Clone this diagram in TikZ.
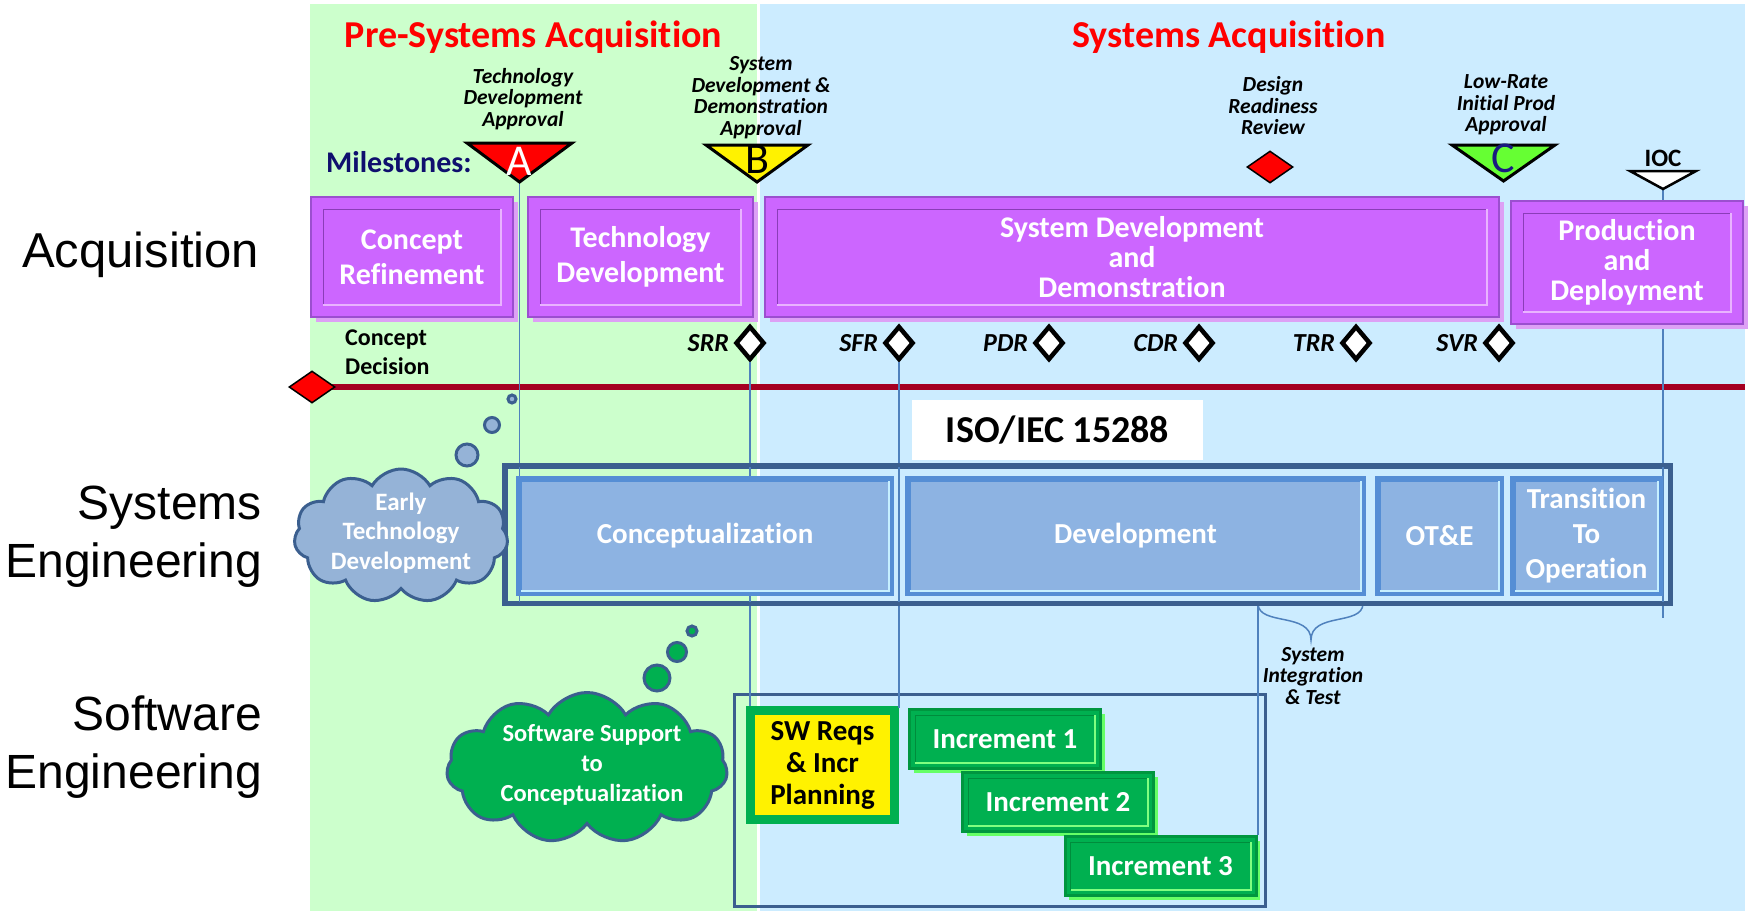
\documentclass[tikz,border=0pt]{standalone}
\usepackage{fontspec}
\setmainfont{Carlito}[Ligatures=NoCommon]
\newfontfamily\arialf{Liberation Sans}
\usetikzlibrary{shapes.geometric,shapes.symbols,shadows}
\newcommand\fsz[2]{\fontsize{#1}{#2}\selectfont}
\definecolor{greenbg}{HTML}{CCFFCC}
\definecolor{bluebg}{HTML}{CCECFF}
\definecolor{acqfill}{HTML}{CC66FF}
\definecolor{acqedge}{HTML}{9B4FCF}
\definecolor{acqdark}{HTML}{8A3DB8}
\definecolor{acqlight}{HTML}{E9B3FF}
\definecolor{acqshade}{HTML}{DDA0F5}
\definecolor{sefill}{HTML}{8DB3E2}
\definecolor{seedge}{HTML}{558ED5}
\definecolor{seshade}{HTML}{C6EFFF}
\definecolor{seout}{HTML}{3B5F8F}
\definecolor{vlinec}{HTML}{4F81BD}
\definecolor{redline}{HTML}{A50021}
\definecolor{etdfill}{HTML}{95B3D7}
\definecolor{swgreen}{HTML}{00B050}
\definecolor{incedge}{HTML}{00963F}
\definecolor{incdark}{HTML}{008C3C}
\definecolor{inclight}{HTML}{80FF80}
\definecolor{incshade}{HTML}{66FF66}
\definecolor{navyt}{HTML}{0F0F6E}
\definecolor{cletter}{HTML}{1A1A80}
\definecolor{triC}{HTML}{66FF33}
\newcommand\bevel[4]{%
  \draw[#3] ([shift={(#2,-#2)}]#1.south west) -- ([shift={(#2,#2)}]#1.north west) -- ([shift={(-#2,#2)}]#1.north east);
  \draw[#4] ([shift={(-#2,#2)}]#1.north east) -- ([shift={(-#2,-#2)}]#1.south east) -- ([shift={(#2,-#2)}]#1.south west);}
\begin{document}
\begin{tikzpicture}[x=1pt,y=-1pt,
  vline/.style={draw=vlinec, line width=1.6},
  acq/.style={rectangle, fill=acqfill, draw=acqedge, line width=1.5, text=white, align=center, inner sep=0,
    drop shadow={shadow xshift=5pt, shadow yshift=-5pt, fill=acqshade, opacity=1}},
  seb/.style={rectangle, fill=sefill, draw=seedge, line width=6, text=white, font=\fsz{29}{35}\bfseries, align=center, inner sep=0,
    drop shadow={shadow xshift=3pt, shadow yshift=-3pt, fill=seshade, opacity=1}},
  incbox/.style={rectangle, fill=swgreen, draw=incedge, line width=3, text=white, font=\fsz{29}{32}\bfseries, inner sep=0,
    minimum width=191, minimum height=59,
    drop shadow={shadow xshift=4pt, shadow yshift=-4pt, fill=incshade, opacity=1}},
  rev/.style={diamond, draw=black, line width=4.5, fill=white, minimum width=29, minimum height=34, inner sep=0},
  reddia/.style={diamond, draw=black, line width=1.5, fill=red, minimum width=46, minimum height=32, inner sep=0},
  revlab/.style={font=\fsz{26}{28}\bfseries\itshape, anchor=east, inner sep=0},
  mslab/.style={font=\fsz{21.5}{21.5}\bfseries\itshape, align=center, inner sep=0},
  tri/.style={draw=black, line width=3, line join=miter},
  letter/.style={font=\fsz{44}{44}, anchor=base, inner sep=0},
  cloudn/.style={cloud, cloud puffs=11, cloud puff arc=120, draw=seout, line width=3, inner sep=0},
  bub/.style={circle, draw=seout, line width=3, inner sep=0},
  lanelab/.style={font=\arialf\fsz{48}{58}, align=right, inner sep=0}
]
\useasboundingbox (0,0) rectangle (1752,911);
% backgrounds
\fill[white] (0,0) rectangle (1752,911);
\fill[greenbg] (310,4) rectangle (757,911);
\fill[bluebg] (760,4) rectangle (1745,911);

% titles
\node[font=\fsz{38}{40}\bfseries, text=red, anchor=base, inner sep=0] (pre) at (533.5,47) {Pre-Systems Acquisition};
\node[font=\fsz{38}{40}\bfseries, text=red, anchor=base, inner sep=0] (sa) at (1229,47) {Systems Acquisition};
\node[font=\fsz{30}{32}\bfseries, text=navyt, anchor=base west, inner sep=0] (ms) at (326,172) {Milestones:};

% lane labels
\node[font=\arialf\fsz{49}{58}, anchor=base west, inner sep=0] (lacq) at (22,267) {Acquisition};
\node[lanelab, anchor=east] (lse) at (262,537) {Systems\\Engineering};
\node[lanelab, anchor=east] (lsw) at (262,747) {Software\\Engineering};

% timeline
\coordinate (tlstart) at (312,387);
\coordinate (tlend) at (1745,387);
\draw[redline, line width=6] (tlstart) -- (tlend);
\node[reddia] (cd) at (tlstart) {};
\node[font=\fsz{24}{29}\bfseries, align=left, anchor=west, inner sep=0] (cdl) at (345,352.5) {Concept\\Decision};

% milestone geometry coordinates
\coordinate (Aap) at (519.5,182);
\coordinate (iocap) at (1663,189);
\coordinate (iocend) at (1663,618);

% review diamonds
\node[rev] (srr) at (750,343) {};
\node[rev] (sfr) at (899,343) {};
\node[rev] (pdr) at (1049,343) {};
\node[rev] (cdr) at (1199,343) {};
\node[rev] (trr) at (1356,343) {};
\node[rev] (svr) at (1499,343) {};
\foreach \n/\t in {srr/SRR,sfr/SFR,pdr/PDR,cdr/CDR,trr/TRR,svr/SVR}
  \node[revlab] (\n l) at ([xshift=-4pt]\n.west) {\t};

% SE / SW frames
\node[draw=seout, line width=3.5, minimum width=1163.5, minimum height=135.5, inner sep=0] (seo) at (1087.5,534.5) {};
\node[draw=seout, line width=3.5, minimum width=531, minimum height=212, inner sep=0] (swo) at (1000,800.5) {};

% SW boxes
\node[rectangle, fill=yellow, draw=swgreen, line width=9, font=\fsz{29}{32}\bfseries, align=center, inner sep=0,
  minimum width=144, minimum height=109,
  drop shadow={shadow xshift=4pt, shadow yshift=-4pt, fill=incshade, opacity=1}] (swr) at (822.5,765) {SW Reqs\\\& Incr\\Planning};
\node[incbox] (inc1) at (1005,739) {Increment 1};
\node[incbox] (inc2) at (1058,802) {Increment 2};
\node[incbox] (inc3) at (1160.5,866) {Increment 3};
\foreach \n in {inc1,inc2,inc3} {\bevel{\n}{7}{incdark, line width=1}{inclight, line width=2}}

% brace coordinates
\coordinate (bl) at (1258,604);
\coordinate (br) at (1363,604);
\coordinate (btip) at (1311,640);

% vertical connectors
\draw[vline] (Aap) -- (Aap |- seo.south);
\draw[vline] (srr.south) -- (srr.south |- swr.north);
\draw[vline] (sfr.south) -- (sfr.south |- inc1.north);
\draw[vline] (iocap) -- (iocend);
\draw[vline] (bl) -- (bl |- inc3.north);
\draw[vlinec, line width=1.5] (bl) .. controls (1259,626) and (1311,612) .. (btip) .. controls (1311,612) and (1362,626) .. (br);
\node[mslab] (sit) at (1313,676) {System\\Integration\\\& Test};

% acquisition boxes
\node[acq, font=\fsz{30}{35}\bfseries, minimum width=202, minimum height=120] (cr) at (412,257) {Concept\\Refinement};
\node[acq, font=\fsz{30}{35}\bfseries, minimum width=225, minimum height=120] (td) at (640.5,257) {Technology\\Development};
\node[acq, font=\fsz{30}{30}\bfseries, minimum width=734, minimum height=120] (sdd) at (1132,257) {System Development\\and\\Demonstration};
\node[acq, font=\fsz{30}{30}\bfseries, minimum width=232, minimum height=123] (pd) at (1627,262.5) {Production\\and\\Deployment};
\foreach \n in {cr,td,sdd,pd} {\bevel{\n}{13}{acqdark, line width=1}{acqlight, line width=2.5}}

% SE boxes
\node[seb, minimum width=372, minimum height=114] (conc) at (705,536) {Conceptualization};
\node[seb, minimum width=455, minimum height=114] (dev) at (1135.5,536) {Development};
\node[seb, minimum width=123, minimum height=114] (ote) at (1439.5,536) {OT\&E};
\node[seb, minimum width=147, minimum height=114] (tto) at (1586.5,536) {Transition\\To\\Operation};
\foreach \n in {conc,dev,ote,tto} {\bevel{\n}{5}{seedge, line width=1}{seshade, line width=2.5}}
\draw[seout, line width=3.5] (seo.north west) rectangle (seo.south east);

\node[fill=white, minimum width=291, minimum height=60, inner sep=0, font=\fsz{38}{40}\bfseries] (iso) at (1057.5,430) {ISO/IEC 15288};

% clouds
\node[cloudn, fill=etdfill, minimum width=214, minimum height=134] (etd) at (401,536) {};
\node[font=\fsz{25}{29.5}\bfseries, text=white, align=center, inner sep=0] (etdt) at (401,533) {Early\\Technology\\Development};
\node[bub, fill=etdfill, minimum size=22] (eb1) at (467,455) {};
\node[bub, fill=etdfill, minimum size=15] (eb2) at (492,425) {};
\node[bub, fill=etdfill, minimum size=8] (eb3) at (512,399) {};

\node[cloudn, fill=swgreen, minimum width=281, minimum height=151] (ssc) at (587,768) {};
\node[font=\fsz{24.5}{30}\bfseries, text=white, align=center, inner sep=0] (ssct) at (592,765) {Software Support\\to\\Conceptualization};
\node[bub, fill=swgreen, minimum size=26] (sb1) at (657,678) {};
\node[bub, fill=swgreen, minimum size=19] (sb2) at (677,652) {};
\node[bub, fill=swgreen, minimum size=10] (sb3) at (692,631) {};

% milestone triangles
\draw[tri, fill=red] (467,143) -- (572,143) -- (Aap) -- cycle;
\node[letter, text=white] (Alet) at (519.5,175) {A};
\draw[tri, fill=yellow] (706,145) -- (808,145) -- (757,182) -- cycle;
\node[letter] (Blet) at (757,173) {B};
\draw[tri, fill=triC] (1452,145) -- (1555,145) -- (1503.5,181) -- cycle;
\node[letter, text=cletter] (Clet) at (1503.5,172) {C};
\draw[tri, fill=white, line width=2.5] (1630,171) -- (1696,171) -- (iocap) -- cycle;
\node[font=\fsz{25}{26}\bfseries, inner sep=0] (ioc) at (1663,158) {IOC};

\node[mslab] (tda) at (523,99) {Technology\\Development\\Approval};
\node[mslab] (sdda) at (761,97.5) {System\\Development \&\\Demonstration\\Approval};
\node[mslab] (drr) at (1273,106) {Design\\Readiness\\Review};
\node[reddia] (drrd) at (1270,167) {};
\node[mslab] (lrip) at (1506,105) {Low-Rate\\Initial Prod\\Approval};
\end{tikzpicture}
\end{document}
